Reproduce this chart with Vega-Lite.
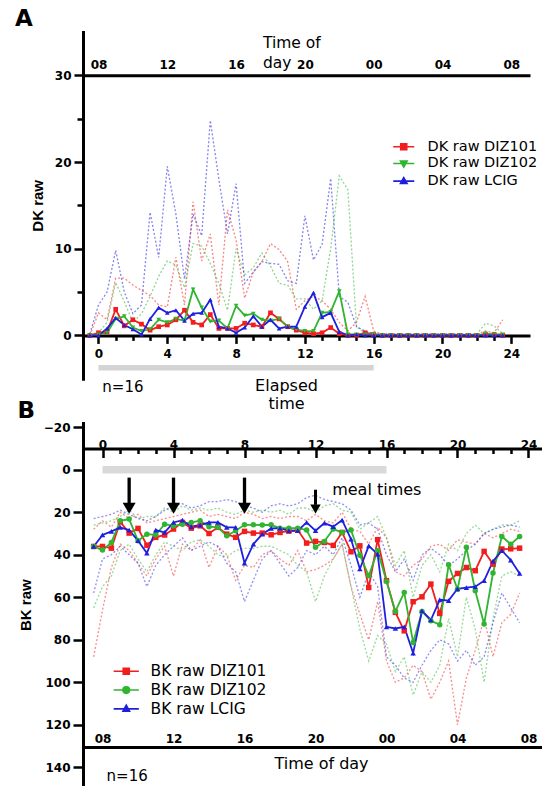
{
"$schema": "https://vega.github.io/schema/vega-lite/v6.json",
"padding": {"left": 15, "top": 7, "right": 0, "bottom": 0},
"background": "white",
"bounds": "flush",
"spacing": 44,
"config": {
  "view": {"stroke": null},
  "axis": {"domainColor": "black", "domainWidth": 3, "tickColor": "black", "tickWidth": 2.5, "labelColor": "black", "labelFont": "DejaVu Sans", "labelFontWeight": "bold", "labelFontSize": 12, "titleColor": "black", "grid": false, "labelOverlap": false, "labelFlush": false, "domainCap": "square"},
  "legend": {"padding": 0, "labelFont": "DejaVu Sans", "labelColor": "black"},
  "text": {"font": "DejaVu Sans", "fontSize": 16, "color": "black"}
},
"datasets": {
"period": [{"start": 0, "end": 16}],
"meals": [{"t": 1.5}, {"t": 4}, {"t": 8}, {"t": 12}],
"Am": [
{"t":-0.5,"DIZ101":0,"DIZ102":0,"LCIG":0},
{"t":0,"DIZ101":0.3,"DIZ102":0.1,"LCIG":0},
{"t":0.5,"DIZ101":0.4,"DIZ102":0.3,"LCIG":0.8},
{"t":1,"DIZ101":3.0,"DIZ102":1.9,"LCIG":2.0},
{"t":1.5,"DIZ101":1.1,"DIZ102":2.2,"LCIG":1.2},
{"t":2,"DIZ101":1.8,"DIZ102":0.9,"LCIG":0.7},
{"t":2.5,"DIZ101":1.3,"DIZ102":0.5,"LCIG":0.1},
{"t":3,"DIZ101":0.6,"DIZ102":0.7,"LCIG":1.9},
{"t":3.5,"DIZ101":1.0,"DIZ102":1.8,"LCIG":3.2},
{"t":4,"DIZ101":1.2,"DIZ102":1.5,"LCIG":2.6},
{"t":4.5,"DIZ101":1.8,"DIZ102":1.9,"LCIG":2.9},
{"t":5,"DIZ101":2.9,"DIZ102":1.7,"LCIG":1.7},
{"t":5.5,"DIZ101":1.5,"DIZ102":5.3,"LCIG":2.5},
{"t":6,"DIZ101":1.2,"DIZ102":3.2,"LCIG":2.6},
{"t":6.5,"DIZ101":2.4,"DIZ102":1.6,"LCIG":4.1},
{"t":7,"DIZ101":0.8,"DIZ102":1.7,"LCIG":1.0},
{"t":7.5,"DIZ101":0.8,"DIZ102":0.8,"LCIG":0.8},
{"t":8,"DIZ101":0.8,"DIZ102":3.4,"LCIG":0.3},
{"t":8.5,"DIZ101":1.4,"DIZ102":2.3,"LCIG":0.9},
{"t":9,"DIZ101":1.2,"DIZ102":2.5,"LCIG":2.2},
{"t":9.5,"DIZ101":1.0,"DIZ102":1.8,"LCIG":1.0},
{"t":10,"DIZ101":2.6,"DIZ102":1.7,"LCIG":1.8},
{"t":10.5,"DIZ101":1.9,"DIZ102":1.9,"LCIG":0.8},
{"t":11,"DIZ101":1.0,"DIZ102":1.0,"LCIG":1.0},
{"t":11.5,"DIZ101":0.6,"DIZ102":0.7,"LCIG":1.0},
{"t":12,"DIZ101":0.3,"DIZ102":0.5,"LCIG":3.3},
{"t":12.5,"DIZ101":0.2,"DIZ102":0.5,"LCIG":4.9},
{"t":13,"DIZ101":0.3,"DIZ102":2.6,"LCIG":2.1},
{"t":13.5,"DIZ101":0.9,"DIZ102":2.7,"LCIG":2.6},
{"t":14,"DIZ101":0.2,"DIZ102":5.1,"LCIG":0.4},
{"t":14.5,"DIZ101":0,"DIZ102":0.1,"LCIG":0},
{"t":15,"DIZ101":0,"DIZ102":0.1,"LCIG":0.1},
{"t":15.5,"DIZ101":0.3,"DIZ102":0.1,"LCIG":0},
{"t":16,"DIZ101":0.1,"DIZ102":0.1,"LCIG":0},
{"t":16.5,"DIZ101":0,"DIZ102":0,"LCIG":0},
{"t":17,"DIZ101":0,"DIZ102":0,"LCIG":0},
{"t":17.5,"DIZ101":0,"DIZ102":0,"LCIG":0},
{"t":18,"DIZ101":0,"DIZ102":0,"LCIG":0},
{"t":18.5,"DIZ101":0,"DIZ102":0,"LCIG":0},
{"t":19,"DIZ101":0,"DIZ102":0,"LCIG":0},
{"t":19.5,"DIZ101":0,"DIZ102":0,"LCIG":0},
{"t":20,"DIZ101":0,"DIZ102":0,"LCIG":0},
{"t":20.5,"DIZ101":0,"DIZ102":0,"LCIG":0},
{"t":21,"DIZ101":0,"DIZ102":0,"LCIG":0},
{"t":21.5,"DIZ101":0,"DIZ102":0,"LCIG":0},
{"t":22,"DIZ101":0,"DIZ102":0,"LCIG":0},
{"t":22.5,"DIZ101":0.1,"DIZ102":0.2,"LCIG":0},
{"t":23,"DIZ101":0.1,"DIZ102":0.1,"LCIG":0},
{"t":23.5,"DIZ101":0,"DIZ102":0.1,"LCIG":0}
],
"Au": [
{"t":-0.5,"DIZ101":0,"DIZ102":0,"LCIG":0.2},
{"t":0,"DIZ101":2.6,"DIZ102":0.3,"LCIG":3.5},
{"t":0.5,"DIZ101":1.8,"DIZ102":1.5,"LCIG":5},
{"t":1,"DIZ101":6.6,"DIZ102":6.1,"LCIG":9.8},
{"t":1.5,"DIZ101":6.6,"DIZ102":3.9,"LCIG":5},
{"t":2,"DIZ101":5.8,"DIZ102":1.5,"LCIG":2.5},
{"t":2.5,"DIZ101":5.2,"DIZ102":2.5,"LCIG":3.5},
{"t":3,"DIZ101":4.6,"DIZ102":4.5,"LCIG":14.2},
{"t":3.5,"DIZ101":3.5,"DIZ102":6.8,"LCIG":9},
{"t":4,"DIZ101":3.3,"DIZ102":8.6,"LCIG":19.5},
{"t":4.5,"DIZ101":9.0,"DIZ102":8.1,"LCIG":14},
{"t":5,"DIZ101":3.5,"DIZ102":5.5,"LCIG":6.5},
{"t":5.5,"DIZ101":15.4,"DIZ102":10.6,"LCIG":14},
{"t":6,"DIZ101":8.6,"DIZ102":10.3,"LCIG":11.5},
{"t":6.5,"DIZ101":11.7,"DIZ102":8.3,"LCIG":24.8},
{"t":7,"DIZ101":3.5,"DIZ102":6,"LCIG":18},
{"t":7.5,"DIZ101":14.5,"DIZ102":2.9,"LCIG":11.7},
{"t":8,"DIZ101":11,"DIZ102":10,"LCIG":17.5},
{"t":8.5,"DIZ101":4.3,"DIZ102":7,"LCIG":6},
{"t":9,"DIZ101":7.3,"DIZ102":7.8,"LCIG":7.3},
{"t":9.5,"DIZ101":8.5,"DIZ102":9.5,"LCIG":8.5},
{"t":10,"DIZ101":10.6,"DIZ102":8,"LCIG":8.3},
{"t":10.5,"DIZ101":9.9,"DIZ102":6,"LCIG":8.2},
{"t":11,"DIZ101":8.5,"DIZ102":5.8,"LCIG":6.3},
{"t":11.5,"DIZ101":3,"DIZ102":4.2,"LCIG":6},
{"t":12,"DIZ101":4,"DIZ102":4.2,"LCIG":13.8},
{"t":12.5,"DIZ101":4.5,"DIZ102":3,"LCIG":8.7},
{"t":13,"DIZ101":4,"DIZ102":4,"LCIG":10.5},
{"t":13.5,"DIZ101":3,"DIZ102":10,"LCIG":18.1},
{"t":14,"DIZ101":1.5,"DIZ102":18.4,"LCIG":4.5},
{"t":14.5,"DIZ101":0.5,"DIZ102":16.8,"LCIG":3.8},
{"t":15,"DIZ101":1.5,"DIZ102":1,"LCIG":1},
{"t":15.5,"DIZ101":4.5,"DIZ102":0.3,"LCIG":0.5},
{"t":16,"DIZ101":0.5,"DIZ102":0.2,"LCIG":0.2},
{"t":16.5,"DIZ101":0.15,"DIZ102":0.15,"LCIG":0.15},
{"t":17,"DIZ101":0.15,"DIZ102":0.15,"LCIG":0.15},
{"t":17.5,"DIZ101":0.15,"DIZ102":0.15,"LCIG":0.15},
{"t":18,"DIZ101":0.15,"DIZ102":0.15,"LCIG":0.15},
{"t":18.5,"DIZ101":0.15,"DIZ102":0.15,"LCIG":0.15},
{"t":19,"DIZ101":0.15,"DIZ102":0.15,"LCIG":0.15},
{"t":19.5,"DIZ101":0.15,"DIZ102":0.15,"LCIG":0.15},
{"t":20,"DIZ101":0.15,"DIZ102":0.15,"LCIG":0.15},
{"t":20.5,"DIZ101":0.15,"DIZ102":0.15,"LCIG":0.15},
{"t":21,"DIZ101":0.15,"DIZ102":0.15,"LCIG":0.15},
{"t":21.5,"DIZ101":0.15,"DIZ102":0.15,"LCIG":0.15},
{"t":22,"DIZ101":0.15,"DIZ102":0.15,"LCIG":0.15},
{"t":22.5,"DIZ101":0.5,"DIZ102":1.4,"LCIG":0.1},
{"t":23,"DIZ101":0.3,"DIZ102":1.1,"LCIG":0.1},
{"t":23.5,"DIZ101":1.8,"DIZ102":0.2,"LCIG":0.1}
],
"Bm": [
{"t":-0.5,"DIZ101":36.1,"DIZ102":36.1,"LCIG":36.1},
{"t":0,"DIZ101":36.1,"DIZ102":37.8,"LCIG":30.7},
{"t":0.5,"DIZ101":36.9,"DIZ102":34.2,"LCIG":29.0},
{"t":1,"DIZ101":24.5,"DIZ102":24.0,"LCIG":27.1},
{"t":1.5,"DIZ101":29.8,"DIZ102":23.2,"LCIG":28.4},
{"t":2,"DIZ101":27.6,"DIZ102":33.4,"LCIG":33.4},
{"t":2.5,"DIZ101":35.5,"DIZ102":30.3,"LCIG":39.2},
{"t":3,"DIZ101":31.8,"DIZ102":30.6,"LCIG":28.4},
{"t":3.5,"DIZ101":30.7,"DIZ102":25.6,"LCIG":29.5},
{"t":4,"DIZ101":27.9,"DIZ102":26.4,"LCIG":24.8},
{"t":4.5,"DIZ101":24.8,"DIZ102":25.6,"LCIG":23.7},
{"t":5,"DIZ101":27.5,"DIZ102":24.8,"LCIG":26.8},
{"t":5.5,"DIZ101":26.4,"DIZ102":24.0,"LCIG":26.0},
{"t":6,"DIZ101":30.0,"DIZ102":26.8,"LCIG":24.8},
{"t":6.5,"DIZ101":27.1,"DIZ102":27.1,"LCIG":24.8},
{"t":7,"DIZ101":30.3,"DIZ102":31.1,"LCIG":27.1},
{"t":7.5,"DIZ101":31.8,"DIZ102":28.7,"LCIG":27.1},
{"t":8,"DIZ101":29.0,"DIZ102":25.9,"LCIG":43.9},
{"t":8.5,"DIZ101":29.8,"DIZ102":25.9,"LCIG":35.0},
{"t":9,"DIZ101":29.8,"DIZ102":26.0,"LCIG":30.3},
{"t":9.5,"DIZ101":30.6,"DIZ102":25.9,"LCIG":27.6},
{"t":10,"DIZ101":29.5,"DIZ102":27.5,"LCIG":27.5},
{"t":10.5,"DIZ101":28.9,"DIZ102":27.5,"LCIG":28.7},
{"t":11,"DIZ101":28.4,"DIZ102":27.5,"LCIG":28.7},
{"t":11.5,"DIZ101":34.5,"DIZ102":28.4,"LCIG":24.8},
{"t":12,"DIZ101":33.7,"DIZ102":36.5,"LCIG":28.7},
{"t":12.5,"DIZ101":34.2,"DIZ102":33.7,"LCIG":25.1},
{"t":13,"DIZ101":35.6,"DIZ102":27.9,"LCIG":26.8},
{"t":13.5,"DIZ101":29.5,"DIZ102":29.5,"LCIG":23.7},
{"t":14,"DIZ101":38.6,"DIZ102":28.4,"LCIG":32.6},
{"t":14.5,"DIZ101":35.8,"DIZ102":40.2,"LCIG":46.7},
{"t":15,"DIZ101":55.4,"DIZ102":49.9,"LCIG":35.8},
{"t":15.5,"DIZ101":32.9,"DIZ102":38.1,"LCIG":39.7},
{"t":16,"DIZ101":52.2,"DIZ102":52.5,"LCIG":73.9},
{"t":16.5,"DIZ101":67.1,"DIZ102":66.7,"LCIG":74.7},
{"t":17,"DIZ101":75.8,"DIZ102":57.7,"LCIG":73.9},
{"t":17.5,"DIZ101":62.1,"DIZ102":81.3,"LCIG":86.3},
{"t":18,"DIZ101":59.8,"DIZ102":66.7,"LCIG":66.4},
{"t":18.5,"DIZ101":53.8,"DIZ102":71.1,"LCIG":70.7},
{"t":19,"DIZ101":67.6,"DIZ102":72.9,"LCIG":61.2},
{"t":19.5,"DIZ101":52.5,"DIZ102":44.7,"LCIG":61.6},
{"t":20,"DIZ101":48.8,"DIZ102":56.2,"LCIG":56.0},
{"t":20.5,"DIZ101":46.0,"DIZ102":36.5,"LCIG":55.5},
{"t":21,"DIZ101":47.5,"DIZ102":56.9,"LCIG":55.0},
{"t":21.5,"DIZ101":38.4,"DIZ102":72.6,"LCIG":52.2},
{"t":22,"DIZ101":44.4,"DIZ102":48.6,"LCIG":43.0},
{"t":22.5,"DIZ101":37.3,"DIZ102":31.4,"LCIG":38.0},
{"t":23,"DIZ101":37.2,"DIZ102":35.0,"LCIG":42.5},
{"t":23.5,"DIZ101":36.9,"DIZ102":31.4,"LCIG":48.8}
],
"Bu": [
{"t":-0.5,"DIZ101":28,"DIZ102":26,"LCIG":23},
{"t":0,"DIZ101":24,"DIZ102":25,"LCIG":22},
{"t":0.5,"DIZ101":27,"DIZ102":24,"LCIG":21},
{"t":1,"DIZ101":20,"DIZ102":22,"LCIG":19},
{"t":1.5,"DIZ101":23,"DIZ102":19,"LCIG":21},
{"t":2,"DIZ101":21,"DIZ102":23,"LCIG":23},
{"t":2.5,"DIZ101":25,"DIZ102":22,"LCIG":24},
{"t":3,"DIZ101":24,"DIZ102":22,"LCIG":22},
{"t":3.5,"DIZ101":23,"DIZ102":18,"LCIG":19},
{"t":4,"DIZ101":22,"DIZ102":20,"LCIG":17},
{"t":4.5,"DIZ101":21,"DIZ102":17,"LCIG":16},
{"t":5,"DIZ101":20,"DIZ102":19,"LCIG":18},
{"t":5.5,"DIZ101":19,"DIZ102":18,"LCIG":17},
{"t":6,"DIZ101":22,"DIZ102":19,"LCIG":15},
{"t":6.5,"DIZ101":21,"DIZ102":18,"LCIG":15},
{"t":7,"DIZ101":22,"DIZ102":20,"LCIG":14},
{"t":7.5,"DIZ101":23,"DIZ102":21,"LCIG":15},
{"t":8,"DIZ101":20,"DIZ102":19,"LCIG":17},
{"t":8.5,"DIZ101":21,"DIZ102":20,"LCIG":18},
{"t":9,"DIZ101":23,"DIZ102":19,"LCIG":20},
{"t":9.5,"DIZ101":22,"DIZ102":20,"LCIG":17},
{"t":10,"DIZ101":23,"DIZ102":19,"LCIG":16},
{"t":10.5,"DIZ101":22,"DIZ102":21,"LCIG":17},
{"t":11,"DIZ101":22,"DIZ102":18,"LCIG":16},
{"t":11.5,"DIZ101":24,"DIZ102":18,"LCIG":13},
{"t":12,"DIZ101":21,"DIZ102":20,"LCIG":12},
{"t":12.5,"DIZ101":24,"DIZ102":17,"LCIG":14},
{"t":13,"DIZ101":25,"DIZ102":16,"LCIG":15},
{"t":13.5,"DIZ101":20,"DIZ102":19,"LCIG":16},
{"t":14,"DIZ101":28,"DIZ102":20,"LCIG":19},
{"t":14.5,"DIZ101":29,"DIZ102":28,"LCIG":26},
{"t":15,"DIZ101":35,"DIZ102":25,"LCIG":25},
{"t":15.5,"DIZ101":27,"DIZ102":22,"LCIG":28},
{"t":16,"DIZ101":32,"DIZ102":32,"LCIG":40},
{"t":16.5,"DIZ101":48,"DIZ102":45,"LCIG":48},
{"t":17,"DIZ101":50,"DIZ102":38,"LCIG":42},
{"t":17.5,"DIZ101":45,"DIZ102":60,"LCIG":52},
{"t":18,"DIZ101":42,"DIZ102":45,"LCIG":40},
{"t":18.5,"DIZ101":36,"DIZ102":40,"LCIG":37},
{"t":19,"DIZ101":35,"DIZ102":48,"LCIG":40},
{"t":19.5,"DIZ101":38,"DIZ102":35,"LCIG":45},
{"t":20,"DIZ101":33,"DIZ102":38,"LCIG":42},
{"t":20.5,"DIZ101":34,"DIZ102":30,"LCIG":38},
{"t":21,"DIZ101":35,"DIZ102":26,"LCIG":35},
{"t":21.5,"DIZ101":30,"DIZ102":30,"LCIG":30},
{"t":22,"DIZ101":32,"DIZ102":28,"LCIG":28},
{"t":22.5,"DIZ101":30,"DIZ102":26,"LCIG":27},
{"t":23,"DIZ101":28,"DIZ102":26,"LCIG":26},
{"t":23.5,"DIZ101":29,"DIZ102":24,"LCIG":27}
],
"Bl": [
{"t":-0.5,"DIZ101":88,"DIZ102":65,"LCIG":58},
{"t":0,"DIZ101":66,"DIZ102":55,"LCIG":42},
{"t":0.5,"DIZ101":46,"DIZ102":50,"LCIG":40},
{"t":1,"DIZ101":35,"DIZ102":38,"LCIG":36},
{"t":1.5,"DIZ101":38,"DIZ102":35,"LCIG":40},
{"t":2,"DIZ101":44,"DIZ102":42,"LCIG":44},
{"t":2.5,"DIZ101":50,"DIZ102":48,"LCIG":55},
{"t":3,"DIZ101":42,"DIZ102":40,"LCIG":45},
{"t":3.5,"DIZ101":36,"DIZ102":34,"LCIG":40},
{"t":4,"DIZ101":50,"DIZ102":36,"LCIG":36},
{"t":4.5,"DIZ101":35,"DIZ102":38,"LCIG":32},
{"t":5,"DIZ101":38,"DIZ102":34,"LCIG":38},
{"t":5.5,"DIZ101":33,"DIZ102":33,"LCIG":36},
{"t":6,"DIZ101":46,"DIZ102":36,"LCIG":34},
{"t":6.5,"DIZ101":36,"DIZ102":40,"LCIG":36},
{"t":7,"DIZ101":40,"DIZ102":41,"LCIG":44},
{"t":7.5,"DIZ101":52,"DIZ102":38,"LCIG":48},
{"t":8,"DIZ101":45,"DIZ102":37,"LCIG":62},
{"t":8.5,"DIZ101":46,"DIZ102":37,"LCIG":52},
{"t":9,"DIZ101":40,"DIZ102":36,"LCIG":42},
{"t":9.5,"DIZ101":38,"DIZ102":36,"LCIG":38},
{"t":10,"DIZ101":42,"DIZ102":38,"LCIG":44},
{"t":10.5,"DIZ101":45,"DIZ102":40,"LCIG":50},
{"t":11,"DIZ101":38,"DIZ102":45,"LCIG":46},
{"t":11.5,"DIZ101":48,"DIZ102":48,"LCIG":38},
{"t":12,"DIZ101":47,"DIZ102":62,"LCIG":40},
{"t":12.5,"DIZ101":45,"DIZ102":50,"LCIG":36},
{"t":13,"DIZ101":42,"DIZ102":42,"LCIG":40},
{"t":13.5,"DIZ101":35,"DIZ102":35,"LCIG":32},
{"t":14,"DIZ101":55,"DIZ102":55,"LCIG":45},
{"t":14.5,"DIZ101":68,"DIZ102":75,"LCIG":60},
{"t":15,"DIZ101":80,"DIZ102":90,"LCIG":48},
{"t":15.5,"DIZ101":62,"DIZ102":78,"LCIG":55},
{"t":16,"DIZ101":90,"DIZ102":82,"LCIG":88},
{"t":16.5,"DIZ101":100,"DIZ102":95,"LCIG":92},
{"t":17,"DIZ101":98,"DIZ102":88,"LCIG":98},
{"t":17.5,"DIZ101":92,"DIZ102":106,"LCIG":100},
{"t":18,"DIZ101":95,"DIZ102":95,"LCIG":92},
{"t":18.5,"DIZ101":108,"DIZ102":100,"LCIG":85},
{"t":19,"DIZ101":100,"DIZ102":92,"LCIG":80},
{"t":19.5,"DIZ101":90,"DIZ102":70,"LCIG":82},
{"t":20,"DIZ101":120,"DIZ102":88,"LCIG":90},
{"t":20.5,"DIZ101":98,"DIZ102":60,"LCIG":85},
{"t":21,"DIZ101":85,"DIZ102":75,"LCIG":92},
{"t":21.5,"DIZ101":70,"DIZ102":100,"LCIG":88},
{"t":22,"DIZ101":88,"DIZ102":70,"LCIG":72},
{"t":22.5,"DIZ101":72,"DIZ102":50,"LCIG":58},
{"t":23,"DIZ101":68,"DIZ102":48,"LCIG":65},
{"t":23.5,"DIZ101":58,"DIZ102":50,"LCIG":72}
]
},
"resolve": {"scale": {"x": "independent", "y": "independent", "color": "independent", "stroke": "independent", "fill": "independent", "shape": "independent"}, "legend": {"color": "independent", "stroke": "independent", "fill": "independent", "shape": "independent"}, "axis": {"x": "independent", "y": "independent"}},
"vconcat": [
{
  "width": 445.5,
  "height": 346.7,
  "resolve": {"axis": {"x": "independent", "y": "independent"}},
  "layer": [
    {
      "data": {"name": "Au"},
      "transform": [{"fold": ["DIZ101", "DIZ102", "LCIG"], "as": ["s", "v"]}],
      "mark": {"type": "line", "strokeDash": [2, 2], "strokeWidth": 1.3, "opacity": 0.55},
      "encoding": {
        "x": {"field": "t", "type": "quantitative", "scale": {"domain": [-0.9, 25], "nice": false, "zero": false},
          "axis": {"orient": "bottom", "offset": -43.3, "values": [0,1,2,3,4,5,6,7,8,9,10,11,12,13,14,15,16,17,18,19,20,21,22,23,24],
            "labelExpr": "datum.value % 4 === 0 ? datum.label : ''",
            "tickSize": {"condition": {"test": "datum.value % 4 === 0", "value": 8}, "value": 5},
            "labelPadding": 5,
            "title": ["Elapsed", "time"], "titleFont": "DejaVu Sans", "titleFontWeight": "normal", "titleFontSize": 16, "titlePadding": 18, "titleX": 203, "titleLineHeight": 18}},
        "y": {"field": "v", "type": "quantitative", "scale": {"domain": [-5, 35], "nice": false, "zero": false},
          "axis": {"orient": "left", "values": [0, 5, 10, 15, 20, 25, 30],
            "labelExpr": "datum.value % 10 === 0 ? datum.label : ''",
            "tickSize": {"condition": {"test": "datum.value % 10 === 0", "value": 9}, "value": 6},
            "labelPadding": 3,
            "title": "DK raw", "titleFont": "Liberation Sans", "titleFontSize": 15, "titleFontWeight": "bold", "titlePadding": 9}},
        "stroke": {"field": "s", "type": "nominal", "scale": {"domain": ["DIZ102", "DIZ101", "LCIG"], "range": ["#2fb52f", "#f21d1d", "#1f1fe0"]}, "legend": null}
      }
    },
    {
      "data": {"name": "Am"},
      "transform": [{"fold": ["DIZ101", "DIZ102", "LCIG"], "as": ["s", "v"]}],
      "mark": {"type": "line", "strokeWidth": 1.8},
      "encoding": {
        "x": {"field": "t", "type": "quantitative", "scale": {"domain": [-0.9, 25], "nice": false, "zero": false},
          "axis": {"orient": "top", "offset": -43.3, "values": [0, 4, 8, 12, 16, 20, 24],
            "labelExpr": "(datum.value + 8) % 24 < 10 ? '0' + (datum.value + 8) % 24 : '' + (datum.value + 8) % 24",
            "ticks": false, "labelPadding": 7, "labelBaseline": "alphabetic", "title": null}},
        "y": {"field": "v", "type": "quantitative", "scale": {"domain": [-5, 35], "nice": false, "zero": false}, "axis": null},
        "color": {"field": "s", "type": "nominal", "scale": {"domain": ["DIZ101", "DIZ102", "LCIG"], "range": ["#f21d1d", "#2fb52f", "#1f1fe0"]},
          "legend": {"orient": "none", "legendX": 313.5, "legendY": 107.5, "title": null,
            "labelExpr": "'DK raw ' + datum.label", "labelFontSize": 14.5, "labelOffset": 16.5, "symbolSize": 144, "rowPadding": 1.7, "padding": 0,
            "symbolStrokeWidth": 1.6, "symbolOpacity": 1,
            "encode": {"symbols": {"update": {
              "shape": [{"test": "datum.value === 'DIZ101'", "value": "M-1.75,0H1.75M-0.5,-0.5H0.5V0.5H-0.5Z"}, {"test": "datum.value === 'DIZ102'", "value": "M-1.75,0H1.75M0,0.6L0.55,-0.4H-0.55Z"}, {"value": "M-1.75,0H1.75M0,-0.6L0.55,0.4H-0.55Z"}],
              "fill": [{"test": "datum.value === 'DIZ101'", "value": "#f21d1d"}, {"test": "datum.value === 'DIZ102'", "value": "#2fb52f"}, {"value": "#1f1fe0"}],
              "stroke": [{"test": "datum.value === 'DIZ101'", "value": "#f21d1d"}, {"test": "datum.value === 'DIZ102'", "value": "#2fb52f"}, {"value": "#1f1fe0"}],
              "strokeWidth": {"value": 1.6},
              "opacity": {"value": 1}
            }}}}}
      }
    },
    {
      "data": {"name": "Am"},
      "transform": [{"fold": ["DIZ101", "DIZ102", "LCIG"], "as": ["s", "v"]}],
      "mark": {"type": "point", "filled": true, "size": 22, "opacity": 1},
      "encoding": {
        "x": {"field": "t", "type": "quantitative", "axis": null},
        "y": {"field": "v", "type": "quantitative", "axis": null},
        "fill": {"field": "s", "type": "nominal", "scale": {"domain": ["LCIG", "DIZ101", "DIZ102"], "range": ["#1f1fe0", "#f21d1d", "#2fb52f"]}, "legend": null},
        "shape": {"field": "s", "type": "nominal", "scale": {"domain": ["DIZ102", "LCIG", "DIZ101"], "range": ["triangle-down", "triangle-up", "square"]}, "legend": null}
      }
    },
    {
      "data": {"name": "period"},
      "mark": {"type": "rule", "color": "#d4d4d4", "strokeWidth": 5.5},
      "encoding": {
        "x": {"field": "start", "type": "quantitative", "axis": null},
        "x2": {"field": "end"},
        "y": {"datum": -3.73, "type": "quantitative", "axis": null}
      }
    },
    {
      "data": {"values": [{}]},
      "mark": {"type": "text", "text": "A", "fontSize": 23, "fontWeight": "bold", "align": "center", "baseline": "middle"},
      "encoding": {"x": {"datum": -4.33, "type": "quantitative", "axis": null}, "y": {"datum": 36.5, "type": "quantitative", "axis": null}}
    },
    {
      "data": {"values": [{}]},
      "mark": {"type": "text", "text": "Time of", "fontSize": 15.5, "align": "left", "baseline": "middle"},
      "encoding": {"x": {"datum": 9.56, "type": "quantitative", "axis": null}, "y": {"datum": 33.7, "type": "quantitative", "axis": null}}
    },
    {
      "data": {"values": [{}]},
      "mark": {"type": "text", "text": "day", "fontSize": 15.5, "align": "left", "baseline": "middle"},
      "encoding": {"x": {"datum": 9.56, "type": "quantitative", "axis": null}, "y": {"datum": 31.4, "type": "quantitative", "axis": null}}
    },
    {
      "data": {"values": [{}]},
      "mark": {"type": "text", "text": "n=16", "fontSize": 15, "align": "center", "baseline": "middle"},
      "encoding": {"x": {"datum": 1.42, "type": "quantitative", "axis": null}, "y": {"datum": -6.0, "type": "quantitative", "axis": null}}
    }
  ]
},
{
  "width": 458.8,
  "height": 363.4,
  "resolve": {"axis": {"x": "independent", "y": "independent"}},
  "layer": [
    {
      "data": {"name": "Bu"},
      "transform": [{"fold": ["DIZ101", "DIZ102", "LCIG"], "as": ["s", "v"]}],
      "mark": {"type": "line", "strokeDash": [2, 2], "strokeWidth": 1.3, "opacity": 0.5},
      "encoding": {
        "x": {"field": "t", "type": "quantitative", "scale": {"domain": [-1.1, 24.75], "nice": false, "zero": false},
          "axis": {"orient": "top", "offset": -25.5, "values": [0,1,2,3,4,5,6,7,8,9,10,11,12,13,14,15,16,17,18,19,20,21,22,23,24],
            "labelExpr": "datum.value % 4 === 0 ? datum.label : ''",
            "tickSize": {"condition": {"test": "datum.value % 4 === 0", "value": -9}, "value": -5},
            "labelPadding": 9, "labelBaseline": "alphabetic", "title": null}},
        "y": {"field": "v", "type": "quantitative", "scale": {"domain": [-22, 149], "nice": false, "zero": false, "reverse": true},
          "axis": {"orient": "left", "values": [-20, 0, 20, 40, 60, 80, 100, 120, 140], "tickSize": 10, "labelPadding": 3,
            "title": "BK raw", "titleFont": "Liberation Sans", "titleFontSize": 15, "titleFontWeight": "bold", "titlePadding": 10}},
        "stroke": {"field": "s", "type": "nominal", "scale": {"domain": ["DIZ102", "DIZ101", "LCIG"], "range": ["#2fb52f", "#f21d1d", "#1f1fe0"]}, "legend": null}
      }
    },
    {
      "data": {"name": "Bl"},
      "transform": [{"fold": ["DIZ101", "DIZ102", "LCIG"], "as": ["s", "v"]}],
      "mark": {"type": "line", "strokeDash": [2, 2], "strokeWidth": 1.3, "opacity": 0.5},
      "encoding": {
        "x": {"field": "t", "type": "quantitative", "axis": null},
        "y": {"field": "v", "type": "quantitative", "axis": null},
        "stroke": {"field": "s", "type": "nominal", "scale": {"domain": ["DIZ102", "DIZ101", "LCIG"], "range": ["#2fb52f", "#f21d1d", "#1f1fe0"]}, "legend": null}
      }
    },
    {
      "data": {"name": "Bm"},
      "transform": [{"fold": ["DIZ101", "DIZ102", "LCIG"], "as": ["s", "v"]}],
      "mark": {"type": "line", "strokeWidth": 1.8},
      "encoding": {
        "x": {"field": "t", "type": "quantitative", "scale": {"domain": [-1.1, 24.75], "nice": false, "zero": false},
          "axis": {"orient": "bottom", "offset": -39.3, "values": [0, 4, 8, 12, 16, 20, 24],
            "labelExpr": "(datum.value + 8) % 24 < 10 ? '0' + (datum.value + 8) % 24 : '' + (datum.value + 8) % 24",
            "ticks": false, "labelPadding": -5, "labelBaseline": "alphabetic",
            "title": "Time of day", "titleFont": "DejaVu Sans", "titleFontWeight": "normal", "titleFontSize": 16, "titlePadding": 8, "titleX": 238}},
        "y": {"field": "v", "type": "quantitative", "scale": {"domain": [-22, 149], "nice": false, "zero": false, "reverse": true}, "axis": null},
        "color": {"field": "s", "type": "nominal", "scale": {"domain": ["DIZ101", "DIZ102", "LCIG"], "range": ["#f21d1d", "#2fb52f", "#1f1fe0"]},
          "legend": {"orient": "none", "legendX": 35.5, "legendY": 240.5, "title": null,
            "labelExpr": "'BK raw ' + datum.label", "labelFontSize": 15.5, "labelOffset": 16.5, "symbolSize": 144, "rowPadding": 1.8, "padding": 0,
            "symbolStrokeWidth": 1.6, "symbolOpacity": 1,
            "encode": {"symbols": {"update": {
              "shape": [{"test": "datum.value === 'DIZ101'", "value": "M-2.1,0H2.1M-0.5,-0.5H0.5V0.5H-0.5Z"}, {"test": "datum.value === 'DIZ102'", "value": "M-2.1,0H2.1M-0.55,0A0.55,0.55,0,1,0,0.55,0A0.55,0.55,0,1,0,-0.55,0Z"}, {"value": "M-2.1,0H2.1M0,-0.6L0.55,0.4H-0.55Z"}],
              "fill": [{"test": "datum.value === 'DIZ101'", "value": "#f21d1d"}, {"test": "datum.value === 'DIZ102'", "value": "#2fb52f"}, {"value": "#1f1fe0"}],
              "stroke": [{"test": "datum.value === 'DIZ101'", "value": "#f21d1d"}, {"test": "datum.value === 'DIZ102'", "value": "#2fb52f"}, {"value": "#1f1fe0"}],
              "strokeWidth": {"value": 1.6},
              "opacity": {"value": 1}
            }}}}}
      }
    },
    {
      "data": {"name": "Bm"},
      "transform": [{"fold": ["DIZ101", "DIZ102", "LCIG"], "as": ["s", "v"]}],
      "mark": {"type": "point", "filled": true, "size": 30, "opacity": 1},
      "encoding": {
        "x": {"field": "t", "type": "quantitative", "axis": null},
        "y": {"field": "v", "type": "quantitative", "axis": null},
        "fill": {"field": "s", "type": "nominal", "scale": {"domain": ["LCIG", "DIZ101", "DIZ102"], "range": ["#1f1fe0", "#f21d1d", "#2fb52f"]}, "legend": null},
        "shape": {"field": "s", "type": "nominal", "scale": {"domain": ["DIZ102", "LCIG", "DIZ101"], "range": ["circle", "triangle-up", "square"]}, "legend": null}
      }
    },
    {
      "data": {"name": "period"},
      "mark": {"type": "rule", "color": "#d9d9d9", "strokeWidth": 7.5},
      "encoding": {
        "x": {"field": "start", "type": "quantitative", "axis": null},
        "x2": {"field": "end"},
        "y": {"datum": 0, "type": "quantitative", "axis": null}
      }
    },
    {
      "data": {"name": "meals"},
      "transform": [{"filter": "datum.t < 12"}],
      "mark": {"type": "rule", "color": "black", "strokeWidth": 3.3},
      "encoding": {
        "x": {"field": "t", "type": "quantitative", "axis": null},
        "y": {"datum": 3.7, "type": "quantitative", "axis": null},
        "y2": {"datum": 16}
      }
    },
    {
      "data": {"name": "meals"},
      "transform": [{"filter": "datum.t < 12"}],
      "mark": {"type": "point", "filled": true, "color": "black", "opacity": 1, "size": 169, "shape": "M-1,-0.7L1,-0.7L0,1Z"},
      "encoding": {
        "x": {"field": "t", "type": "quantitative", "axis": null},
        "y": {"datum": 17.65, "type": "quantitative", "axis": null}
      }
    },
    {
      "data": {"name": "meals"},
      "transform": [{"filter": "datum.t >= 12"}],
      "mark": {"type": "rule", "color": "black", "strokeWidth": 3},
      "encoding": {
        "x": {"field": "t", "type": "quantitative", "axis": null},
        "y": {"datum": 9.4, "type": "quantitative", "axis": null},
        "y2": {"datum": 16.5}
      }
    },
    {
      "data": {"name": "meals"},
      "transform": [{"filter": "datum.t >= 12"}],
      "mark": {"type": "point", "filled": true, "color": "black", "opacity": 1, "size": 110, "shape": "M-1,-0.7L1,-0.7L0,1Z"},
      "encoding": {
        "x": {"field": "t", "type": "quantitative", "axis": null},
        "y": {"datum": 18.1, "type": "quantitative", "axis": null}
      }
    },
    {
      "data": {"values": [{}]},
      "mark": {"type": "text", "text": "meal times", "fontSize": 16, "align": "left", "baseline": "middle"},
      "encoding": {"x": {"datum": 12.94, "type": "quantitative", "axis": null}, "y": {"datum": 9.4, "type": "quantitative", "axis": null}}
    },
    {
      "data": {"values": [{}]},
      "mark": {"type": "text", "text": "n=16", "fontSize": 15, "align": "center", "baseline": "middle"},
      "encoding": {"x": {"datum": 1.39, "type": "quantitative", "axis": null}, "y": {"datum": 144.0, "type": "quantitative", "axis": null}}
    },
    {
      "data": {"values": [{}]},
      "mark": {"type": "text", "text": "B", "fontSize": 23, "fontWeight": "bold", "align": "center", "baseline": "middle"},
      "encoding": {"x": {"datum": -4.3, "type": "quantitative", "axis": null}, "y": {"datum": -27.8, "type": "quantitative", "axis": null}}
    }
  ]
}
]
}
